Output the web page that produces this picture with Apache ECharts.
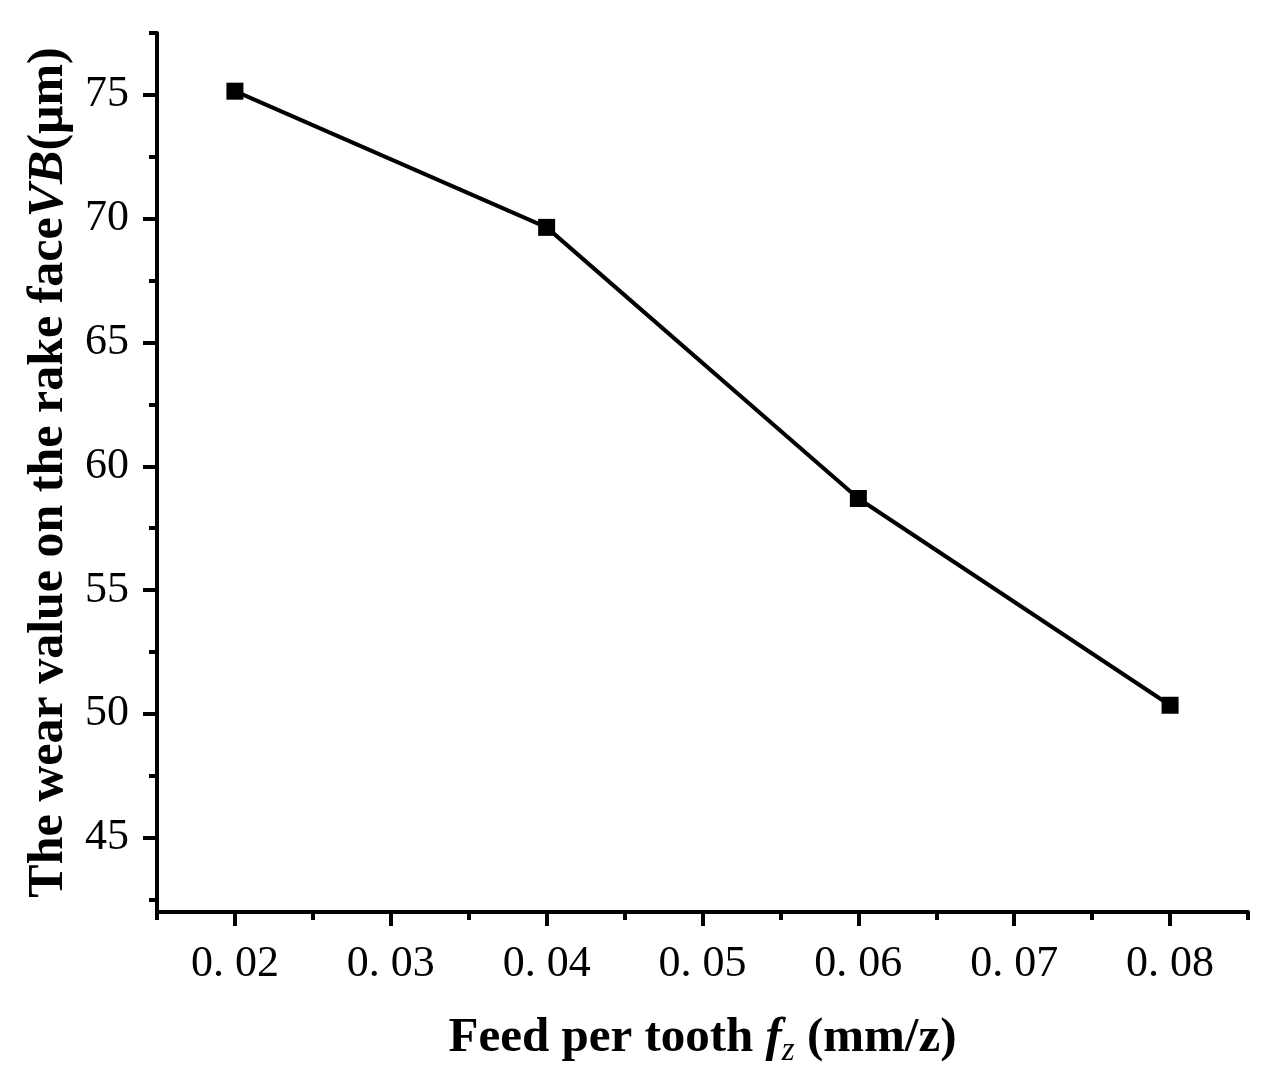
<!DOCTYPE html>
<html>
<head>
<meta charset="utf-8">
<script src="https://cdn.jsdelivr.net/npm/echarts@6/dist/echarts.min.js"></script>
<style>html,body{margin:0;padding:0;background:#fff}#c{width:1268px;height:1086px}</style>
</head>
<body>
<div id="c"></div>
<script>
const feed = [0.02, 0.04, 0.06, 0.08];
const wear = [75.15, 69.65, 58.7, 50.35];
const xMajor = [0.02, 0.03, 0.04, 0.05, 0.06, 0.07, 0.08];
const xMinor = [0.015, 0.025, 0.035, 0.045, 0.055, 0.065, 0.075, 0.085];
const yMajor = [45, 50, 55, 60, 65, 70, 75];
const yMinor = [42.5, 47.5, 52.5, 57.5, 62.5, 67.5, 72.5, 77.5];

const FONT = 'Liberation Serif';
const chart = echarts.init(document.getElementById('c'));
const axisLine = {show: true, lineStyle: {color: '#000', width: 4}};
chart.setOption({
  backgroundColor: '#fff',
  animation: false,
  grid: {left: 157, right: 20, top: 33, bottom: 174, containLabel: false},
  xAxis: [{
    type: 'value', min: 0.015, max: 0.085,
    axisLine: axisLine,
    axisTick: {show: true, customValues: xMajor, length: 14, lineStyle: {color: '#000', width: 4}},
    axisLabel: {customValues: xMajor, margin: 30, color: '#000', fontFamily: FONT, fontSize: 44,
      formatter: v => v.toFixed(2).replace('.', '. ')},
    splitLine: {show: false},
    name: '{b|Feed per tooth }{it|f}{sub|z}{b| (mm/z)}',
    nameLocation: 'middle', nameGap: 96,
    nameTextStyle: {
      rich: {
        b: {fontFamily: FONT, fontWeight: 'bold', fontSize: 49, color: '#000', lineHeight: 60},
        it: {fontFamily: FONT, fontWeight: 'bold', fontStyle: 'italic', fontSize: 49, color: '#000', lineHeight: 60},
        sub: {fontFamily: FONT, fontStyle: 'italic', fontSize: 33, color: '#000', lineHeight: 28, verticalAlign: 'bottom'}
      }
    }
  }, {
    type: 'value', min: 0.015, max: 0.085, position: 'bottom',
    axisLine: {show: false},
    axisTick: {show: true, customValues: xMinor, length: 8, lineStyle: {color: '#000', width: 4}},
    axisLabel: {show: false},
    splitLine: {show: false}
  }],
  yAxis: [{
    type: 'value', min: 42, max: 77.5,
    axisLine: axisLine,
    axisTick: {show: true, customValues: yMajor, length: 14, lineStyle: {color: '#000', width: 4}},
    axisLabel: {customValues: yMajor, margin: 28, color: '#000', fontFamily: FONT, fontSize: 44},
    splitLine: {show: false},
    name: '{b|The wear value on the rake face}{it|VB}{b|(μm)}',
    nameLocation: 'middle', nameGap: 82, nameRotate: 90,
    nameTextStyle: {
      rich: {
        b: {fontFamily: FONT, fontWeight: 'bold', fontSize: 50, color: '#000'},
        it: {fontFamily: FONT, fontWeight: 'bold', fontStyle: 'italic', fontSize: 50, color: '#000'}
      }
    }
  }, {
    type: 'value', min: 42, max: 77.5, position: 'left',
    axisLine: {show: false},
    axisTick: {show: true, customValues: yMinor, length: 8, lineStyle: {color: '#000', width: 4}},
    axisLabel: {show: false},
    splitLine: {show: false}
  }],
  series: [{
    type: 'line',
    xAxisIndex: 0, yAxisIndex: 0,
    data: feed.map((f, i) => [f, wear[i]]),
    symbol: 'rect', symbolSize: 17,
    lineStyle: {color: '#000', width: 4},
    itemStyle: {color: '#000'}
  }]
});
</script>
</body>
</html>
